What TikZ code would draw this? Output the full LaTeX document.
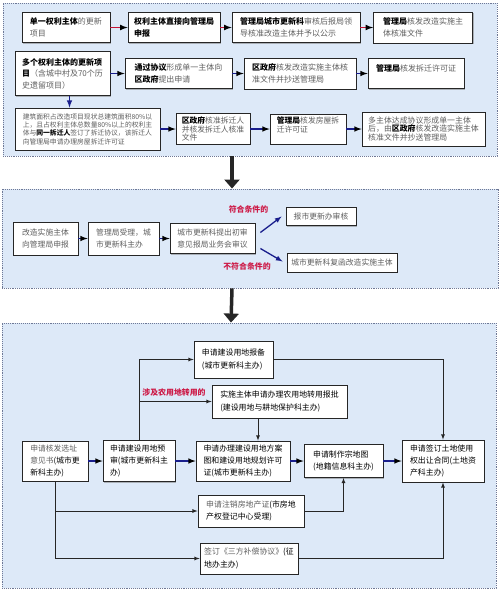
\documentclass[tikz,border=0pt]{standalone}
\usepackage{fontspec}
\newfontfamily\cjk{Noto Sans CJK SC}
\usepackage{tikz}
\usetikzlibrary{positioning,arrows.meta,shadows}

\definecolor{panelblue}{RGB}{221,233,248}
\definecolor{panelline}{RGB}{110,120,150}
\definecolor{songgray}{RGB}{95,95,95}
\definecolor{condred}{RGB}{205,25,70}
\definecolor{flowred}{RGB}{195,20,55}
\definecolor{flowblue}{RGB}{25,30,140}

\newcommand\kw[1]{{\bfseries\color{black}#1}}
\newcommand\blk[1]{{\color{black}#1}}

\begin{document}
\begin{tikzpicture}[x=1pt,y=-1pt,>=latex,
  panel/.style={draw=panelline,fill=panelblue,densely dotted,line width=0.9pt,inner sep=0pt},
  step node/.style={draw=black!85,fill=white,line width=0.8pt,inner sep=3pt,
    align=left,text=songgray,font=\cjk\fontsize{8}{11.5}\selectfont,
    drop shadow={shadow xshift=1.2pt,shadow yshift=-1.2pt,opacity=0.55}},
  hei node/.style={step node,text=black,font=\cjk\fontsize{7.9}{12.2}\selectfont},
  cond/.style={font=\cjk\bfseries\fontsize{7.9}{10}\selectfont,text=condred},
  red flow/.style={->,draw=flowred,line width=1.6pt},
  blue flow/.style={->,draw=flowblue,line width=1.5pt},
  thin flow/.style={->,draw=black!85,line width=0.8pt},
  stage/.style={-{Triangle[length=9pt,width=15pt]},line width=3.5pt,draw=black!85}]

  \useasboundingbox (0,0) rectangle (500,598);

  % the three stages
  \node[panel,minimum width=494pt,minimum height=153pt] (p1) at (250,79.5) {};
  \node[panel,minimum width=496pt,minimum height=99pt] (p2) at (250,238.5) {};
  \node[panel,minimum width=494pt,minimum height=265pt] (p3) at (249,455.5) {};

  % stage 1
  \node[step node,minimum width=88pt,minimum height=30pt] (b1) at (66,27.5) {\kw{单一权利主体}的更新\\项目};
  \node[step node,minimum width=92pt,minimum height=30pt] (b2) at (174,27.5) {\kw{权利主体直接向管理局}\\\kw{申报}};
  \node[step node,minimum width=128pt,minimum height=30pt] (b3) at (296,27.5) {\kw{管理局城市更新科}审核后报局领\\导核准改造主体并予以公示};
  \node[step node,minimum width=99pt,minimum height=31pt] (b4) at (423,27.5) {\kw{管理局}核发改造实施主\\体核准文件};

  \node[step node,minimum width=95pt,minimum height=44pt] (b5) at (62.5,73.5) {\kw{多个权利主体的更新项}\\\kw{目}（含城中村及70个历\\史遗留项目）};
  \node[step node,minimum width=107pt,minimum height=30pt] (b6) at (178.5,73.5) {\kw{通过协议}形成单一主体向\\\kw{区政府}提出申请};
  \node[step node,minimum width=112pt,minimum height=31pt] (b7) at (300,73.5) {\kw{区政府}核发改造实施主体核\\准文件并抄送管理局};
  \node[step node,minimum width=96pt,minimum height=30pt] (b8) at (416,73.5) {\kw{管理局}核发拆迁许可证\\\mbox{}};

  \node[step node,minimum width=145pt,minimum height=42pt,font=\cjk\fontsize{6.8}{8.3}\selectfont] (b9) at (87.5,129) {建筑面积占改造项目现状总建筑面积80\%以\\上，且占权利主体总数量80\%以上的权利主\\体与\kw{同一拆迁人}签订了拆迁协议，该拆迁人\\向管理局申请办理房屋拆迁许可证};
  \node[step node,minimum width=74pt,minimum height=30pt,font=\cjk\fontsize{7.8}{8.5}\selectfont] (b10) at (213,129) {\kw{区政府}核准拆迁人\\并核发拆迁人核准\\文件};
  \node[step node,minimum width=76pt,minimum height=30pt,font=\cjk\fontsize{7.8}{8.5}\selectfont] (b11) at (308,129) {\kw{管理局}核发房屋拆\\迁许可证\\\mbox{}};
  \node[step node,minimum width=123pt,minimum height=34pt,font=\cjk\fontsize{7.9}{8.6}\selectfont] (b12) at (423.5,129) {多主体达成协议形成单一主体\\后，由\kw{区政府}核发改造实施主体\\核准文件并抄送管理局};

  \path[red flow] (b1) edge (b2) (b2) edge (b3) (b3) edge (b4);
  \path[blue flow] (b5) edge (b6) (b6) edge (b7) (b7) edge (b8)
    (b9) edge (b10) (b10) edge (b11) (b11) edge (b12);
  \draw[blue flow] ([xshift=7pt]b5.south) -- ([xshift=7pt]b5.south |- b9.north);

  % stage 2
  \node[step node,minimum width=65pt,minimum height=33pt,font=\cjk\fontsize{7.8}{12}\selectfont] (c1) at (45.5,238.5) {改造实施主体\\向管理局申报};
  \node[step node,minimum width=71pt,minimum height=33pt,font=\cjk\fontsize{7.8}{12}\selectfont] (c2) at (123.5,238.5) {管理局受理，城\\市更新科主办};
  \node[step node,minimum width=85pt,minimum height=30pt,font=\cjk\fontsize{7.8}{12}\selectfont] (c3) at (212.5,238.5) {城市更新科提出初审\\意见报局业务会审议};
  \node[step node,minimum width=70pt,minimum height=18pt,font=\cjk\fontsize{7.8}{12}\selectfont] (c4) at (321,216.5) {报市更新办审核};
  \node[step node,minimum width=110pt,minimum height=19pt,font=\cjk\fontsize{7.8}{12}\selectfont] (c5) at (342,262.5) {城市更新科复函改造实施主体};
  \node[cond] (yes) at (248.5,209) {符合条件的};
  \node[cond] (no) at (247,266) {不符合条件的};

  \path[blue flow] (c1) edge (c2) (c2) edge (c3);
  \draw[blue flow,line width=1.3pt] ([shift={(5,-6)}]c3.east) -- ([shift={(-4,0)}]c4.west);
  \draw[blue flow,line width=1.3pt] ([shift={(5,10)}]c3.east) -- ([shift={(-4,-1)}]c5.west);

  % stage 3
  \node[hei node,minimum width=79pt,minimum height=37pt] (d1) at (233.5,359.5) {申请建设用地报备\\(城市更新科主办)};
  \node[hei node,minimum width=135pt,minimum height=33pt] (d2) at (279.5,401.5) {实施主体申请办理农用地转用报批\\(建设用地与耕地保护科主办)};
  \node[step node,minimum width=66pt,minimum height=40pt,font=\cjk\fontsize{7.8}{12}\selectfont] (d3) at (55,461) {申请核发选址\\意见书\blk{(城市更}\\\blk{新科主办)}};
  \node[hei node,minimum width=72pt,minimum height=41pt] (d4) at (139,461) {申请建设用地预\\审(城市更新科主\\办)};
  \node[hei node,minimum width=94pt,minimum height=40pt] (d5) at (243,461) {申请办理建设用地方案\\图和建设用地规划许可\\证(城市更新科主办)};
  \node[hei node,minimum width=79pt,minimum height=33pt] (d6) at (343.5,461) {申请制作宗地图\\(地籍信息科主办)};
  \node[hei node,minimum width=82pt,minimum height=42pt] (d7) at (443,461) {申请签订土地使用\\权出让合同(土地资\\产科主办)};
  \node[step node,minimum width=106pt,minimum height=32pt,font=\cjk\fontsize{7.9}{12.2}\selectfont] (d8) at (251,511) {申请注销房地产证\blk{(市房地}\\\blk{产权登记中心受理)}};
  \node[step node,minimum width=98pt,minimum height=31pt,font=\cjk\fontsize{7.9}{12.2}\selectfont] (d9) at (249,558.5) {签订《三方补偿协议》\blk{(征}\\\blk{地办主办)}};
  \node[cond] (farm) at (174,393) {涉及农用地转用的};

  \path[blue flow] (d3) edge (d4) (d4) edge (d5) (d5) edge (d6) (d6) edge (d7);
  \draw[thin flow] (d4.north) |- (d1.west);
  \draw[thin flow] (d4.north |- d2.west) -- (d2.west);
  \draw[thin flow] (d1.east) -| (d7.north);
  \draw[thin flow] ([xshift=-21.5pt]d2.south) -- ([xshift=-21.5pt]d2.south |- d5.north);
  \draw[thin flow] (d3.south) |- (d8.west);
  \draw[thin flow] (d3.south) |- (d9.west);
  \draw[thin flow] (d8.east) -| (d6.south);
  \draw[thin flow] (d9.east) -| (d7.south);

  % between the stages
  \draw[stage] ([xshift=-18pt]p1.south) -- ([xshift=-18pt]p2.north);
  \draw[stage] ([xshift=-18pt]p2.south) -- ([xshift=-18pt]p3.north);
\end{tikzpicture}
\end{document}
